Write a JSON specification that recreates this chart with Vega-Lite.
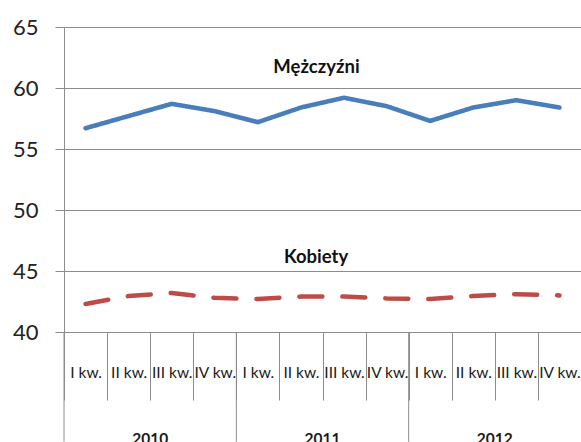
{
  "$schema": "https://vega.github.io/schema/vega-lite/v6.json",
  "width": 517,
  "height": 305,
  "autosize": "none",
  "padding": {"left": 64, "top": 27, "right": 0, "bottom": 110},
  "background": "white",
  "config": {"view": {"stroke": null}, "font": "Lato"},
  "datasets": {
    "main": [
      {"t": "2010 I kw.", "series": "Mężczyźni", "value": 56.7},
      {"t": "2010 II kw.", "series": "Mężczyźni", "value": 57.7},
      {"t": "2010 III kw.", "series": "Mężczyźni", "value": 58.7},
      {"t": "2010 IV kw.", "series": "Mężczyźni", "value": 58.1},
      {"t": "2011 I kw.", "series": "Mężczyźni", "value": 57.2},
      {"t": "2011 II kw.", "series": "Mężczyźni", "value": 58.4},
      {"t": "2011 III kw.", "series": "Mężczyźni", "value": 59.2},
      {"t": "2011 IV kw.", "series": "Mężczyźni", "value": 58.5},
      {"t": "2012 I kw.", "series": "Mężczyźni", "value": 57.3},
      {"t": "2012 II kw.", "series": "Mężczyźni", "value": 58.4},
      {"t": "2012 III kw.", "series": "Mężczyźni", "value": 59.0},
      {"t": "2012 IV kw.", "series": "Mężczyźni", "value": 58.4},
      {"t": "2010 I kw.", "series": "Kobiety", "value": 42.3},
      {"t": "2010 II kw.", "series": "Kobiety", "value": 42.95},
      {"t": "2010 III kw.", "series": "Kobiety", "value": 43.2},
      {"t": "2010 IV kw.", "series": "Kobiety", "value": 42.8},
      {"t": "2011 I kw.", "series": "Kobiety", "value": 42.7},
      {"t": "2011 II kw.", "series": "Kobiety", "value": 42.9},
      {"t": "2011 III kw.", "series": "Kobiety", "value": 42.9},
      {"t": "2011 IV kw.", "series": "Kobiety", "value": 42.75},
      {"t": "2012 I kw.", "series": "Kobiety", "value": 42.7},
      {"t": "2012 II kw.", "series": "Kobiety", "value": 42.95},
      {"t": "2012 III kw.", "series": "Kobiety", "value": 43.1},
      {"t": "2012 IV kw.", "series": "Kobiety", "value": 43.0}
    ],
    "years": [
      {"year": "2010", "start": "2010 I kw.", "mid": "2010 II kw."},
      {"year": "2011", "start": "2011 I kw.", "mid": "2011 II kw."},
      {"year": "2012", "start": "2012 I kw.", "mid": "2012 II kw."}
    ],
    "labels": [
      {"series": "Mężczyźni"}
    ],
    "labels2": [
      {"series": "Kobiety"}
    ]
  },
  "resolve": {"scale": {"x": "shared", "y": "shared"}},
  "layer": [
    {
      "data": {"name": "main"},
      "mark": {"type": "line", "strokeWidth": 4.5, "strokeCap": "round", "strokeJoin": "round"},
      "encoding": {
        "x": {
          "field": "t", "type": "nominal",
          "scale": {"domain": ["2010 I kw.", "2010 II kw.", "2010 III kw.", "2010 IV kw.", "2011 I kw.", "2011 II kw.", "2011 III kw.", "2011 IV kw.", "2012 I kw.", "2012 II kw.", "2012 III kw.", "2012 IV kw."], "paddingInner": 0, "paddingOuter": 0},
          "axis": {
            "title": null, "labelAngle": 0, "labelExpr": "slice(datum.label, 5)",
            "tickBand": "extent", "tickSize": 68, "tickColor": "#8c8c8c", "tickWidth": 1,
            "domainColor": "#8c8c8c", "labelPadding": -35, "labelFontSize": 15.5,
            "labelColor": "#1a1a1a", "labelFont": "Lato", "grid": false
          }
        },
        "y": {
          "field": "value", "type": "quantitative",
          "scale": {"domain": [40, 65], "nice": false, "zero": false},
          "axis": {
            "title": null, "values": [40, 45, 50, 55, 60, 65], "grid": true,
            "gridColor": "#8c8c8c", "gridOpacity": 1, "domainColor": "#8c8c8c",
            "tickColor": "#8c8c8c", "tickSize": 9, "labelPadding": 17,
            "labelFontSize": 22, "labelColor": "#222222", "labelFont": "Lato"
          }
        },
        "color": {
          "field": "series", "type": "nominal",
          "scale": {"domain": ["Mężczyźni", "Kobiety"], "range": ["#4a7ebb", "#be4b48"]},
          "legend": null
        },
        "strokeDash": {
          "field": "series", "type": "nominal",
          "scale": {"domain": ["Mężczyźni", "Kobiety"], "range": [[1, 0], [23, 20]]},
          "legend": null
        }
      }
    },
    {
      "data": {"name": "years"},
      "mark": {"type": "rule", "color": "#8c8c8c", "strokeWidth": 1},
      "encoding": {
        "x": {"field": "start", "type": "nominal", "bandPosition": 0},
        "y": {"datum": 40},
        "y2": {"datum": 31}
      }
    },
    {
      "data": {"name": "years"},
      "mark": {"type": "text", "fontSize": 15.5, "fontWeight": "bold", "baseline": "top", "align": "center", "color": "#1a1a1a", "font": "Lato"},
      "encoding": {
        "x": {"field": "mid", "type": "nominal", "bandPosition": 1},
        "y": {"datum": 31.8},
        "text": {"field": "year"}
      }
    },
    {
      "data": {"name": "labels"},
      "mark": {"type": "text", "fontSize": 18.5, "fontWeight": "bold", "baseline": "alphabetic", "align": "center", "color": "#111111", "font": "Lato"},
      "encoding": {
        "x": {"datum": "2011 II kw.", "bandPosition": 0.86},
        "y": {"datum": 61.23},
        "text": {"field": "series"}
      }
    },
    {
      "data": {"name": "labels2"},
      "mark": {"type": "text", "fontSize": 18.5, "fontWeight": "bold", "baseline": "alphabetic", "align": "center", "color": "#111111", "font": "Lato"},
      "encoding": {
        "x": {"datum": "2011 II kw.", "bandPosition": 0.85},
        "y": {"datum": 45.66},
        "text": {"field": "series"}
      }
    }
  ]
}
